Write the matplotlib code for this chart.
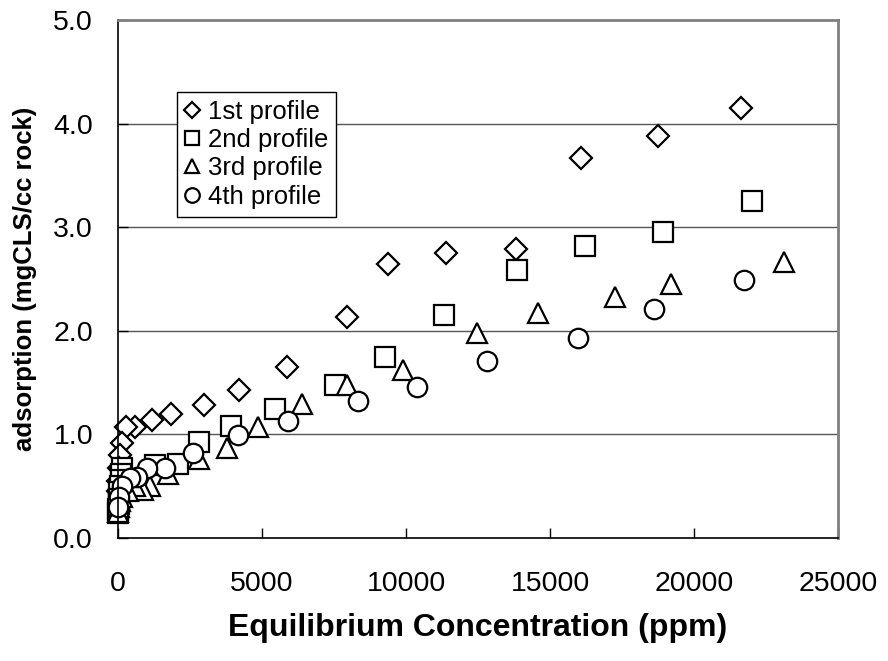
import matplotlib
matplotlib.use("Agg")
import matplotlib.pyplot as plt

plt.rcParams['font.family'] = ['Liberation Sans', 'DejaVu Sans']

# 1st profile
x1 = [21630, 18750, 16080, 13820, 11390, 9380, 7950, 5870, 4200, 2990, 1840, 1180, 590, 280, 140, 60, 30, 15, 8]
y1 = [4.15, 3.88, 3.67, 2.79, 2.75, 2.64, 2.13, 1.65, 1.43, 1.28, 1.20, 1.14, 1.07, 1.07, 0.92, 0.80, 0.68, 0.55, 0.45]
# 2nd profile
x2 = [22010, 18920, 16220, 13850, 11320, 9270, 7540, 5450, 3920, 2810, 2080, 1290, 150, 120, 90, 60, 40, 30, 20, 10, 5]
y2 = [3.25, 2.95, 2.82, 2.59, 2.15, 1.75, 1.48, 1.25, 1.08, 0.93, 0.71, 0.70, 0.68, 0.62, 0.56, 0.50, 0.44, 0.38, 0.33, 0.28, 0.24]
# 3rd profile
x3 = [23120, 19200, 17260, 14580, 12470, 9900, 7950, 6390, 4860, 3790, 2810, 1740, 1110, 870, 600, 350, 150, 70, 30, 10]
y3 = [2.66, 2.45, 2.33, 2.17, 1.98, 1.62, 1.48, 1.29, 1.07, 0.87, 0.76, 0.62, 0.50, 0.46, 0.50, 0.45, 0.40, 0.36, 0.30, 0.25]
# 4th profile
x4 = [21740, 18610, 15970, 12810, 10380, 8330, 5900, 4170, 2600, 1630, 1000, 660, 400, 150, 50, 15]
y4 = [2.49, 2.21, 1.93, 1.71, 1.46, 1.32, 1.13, 0.99, 0.82, 0.68, 0.68, 0.59, 0.58, 0.50, 0.40, 0.30]

labels = ['1st profile', '2nd profile', '3rd profile', '4th profile']
markers = ['D', 's', '^', 'o']
sizes = [11, 14, 14, 14]

fig = plt.figure(figsize=(8.88, 6.61), dpi=100)
ax = fig.add_axes([118/888, 1-538/661, 720/888, 518/661])

for xs, ys, m, s, lab in zip([x1, x2, x3, x4], [y1, y2, y3, y4], markers, sizes, labels):
    ax.plot(xs, ys, linestyle='none', marker=m, markersize=s, markerfacecolor='white',
            markeredgecolor='black', markeredgewidth=1.6, label=lab, clip_on=False)

ax.set_xlim(0, 25000)
ax.set_ylim(0, 5.0)
ax.set_xticks([0, 5000, 10000, 15000, 20000, 25000])
ax.set_yticks([0, 1, 2, 3, 4, 5])
ax.set_yticklabels(['0.0', '1.0', '2.0', '3.0', '4.0', '5.0'])
ax.tick_params(axis='x', direction='in', length=7, width=1, labelsize=20.5, pad=24)
ax.tick_params(axis='y', direction='in', length=7, width=1, labelsize=20.5, pad=18)

for yv in [1, 2, 3, 4]:
    ax.axhline(yv, color='#555555', linewidth=1, zorder=0)

ax.spines['left'].set_color('black')
ax.spines['bottom'].set_color('black')
ax.spines['left'].set_linewidth(1.2)
ax.spines['bottom'].set_linewidth(1.2)
ax.spines['top'].set_color('#808080')
ax.spines['right'].set_color('#808080')
ax.spines['top'].set_linewidth(2)
ax.spines['right'].set_linewidth(2)

ax.set_xlabel('Equilibrium Concentration (ppm)', fontsize=23, fontweight='bold', labelpad=11)
ax.set_ylabel('adsorption (mgCLS/cc rock)', fontsize=18.5, fontweight='bold', labelpad=12)

leg = ax.legend(loc='upper left', bbox_to_anchor=((177-118)/720, (538-92)/518), fontsize=18.5,
                frameon=True, fancybox=False, edgecolor='black', framealpha=1,
                markerscale=0.75, handlelength=0.6, handletextpad=0.3, borderpad=0.3,
                labelspacing=0.17, borderaxespad=0)
leg.get_frame().set_linewidth(1)

fig.savefig('out.png', dpi=100)
